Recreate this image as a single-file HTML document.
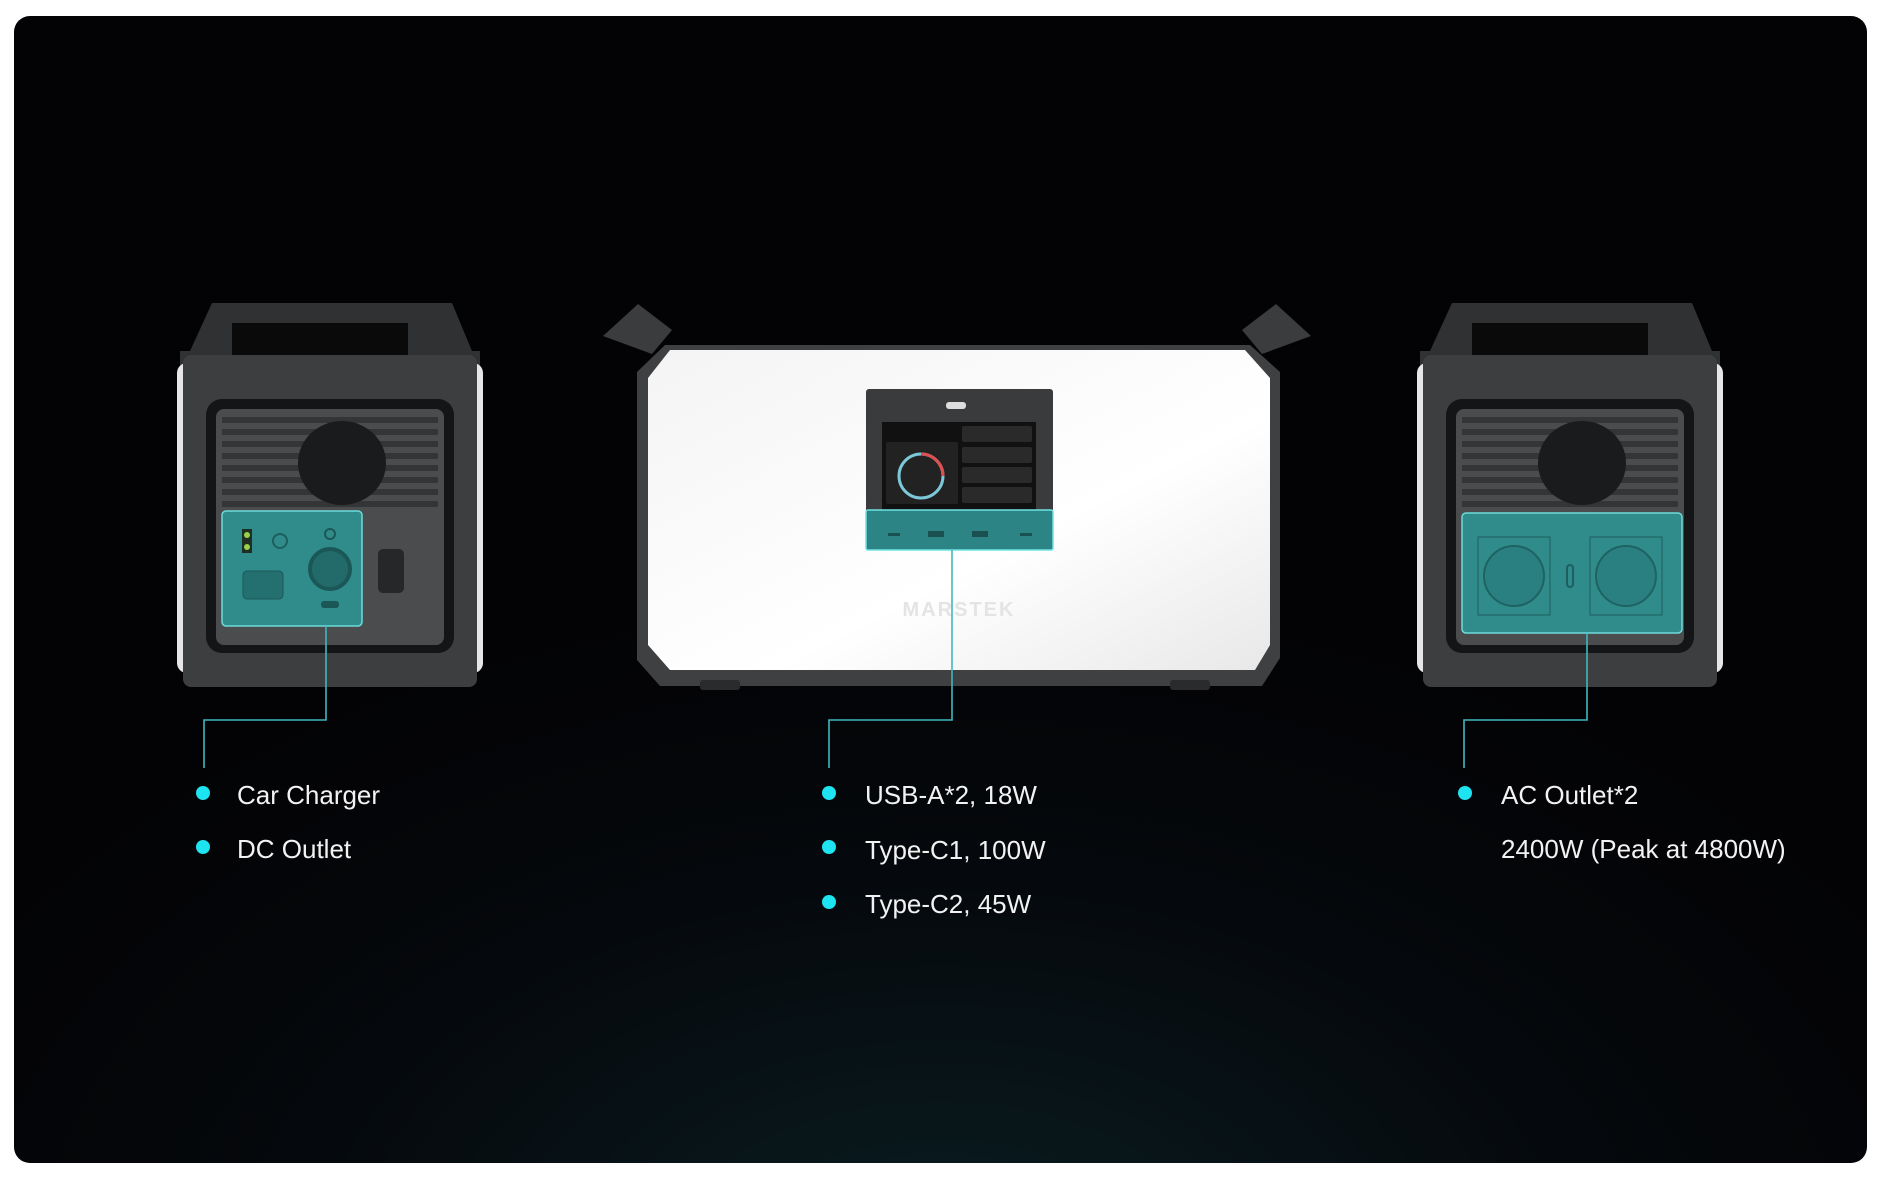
<!DOCTYPE html>
<html><head><meta charset="utf-8"><style>
html,body{margin:0;padding:0;background:#fff;width:1880px;height:1178px;overflow:hidden}
svg{display:block}
text{font-family:"Liberation Sans",sans-serif}
</style></head><body>
<svg width="1880" height="1178" viewBox="0 0 1880 1178">
<defs>
<radialGradient id="glow" cx="0.5" cy="1.1" r="0.6">
<stop offset="0" stop-color="#0a1e22"/><stop offset="0.6" stop-color="#05080c"/><stop offset="1" stop-color="#030305"/>
</radialGradient>
<linearGradient id="white" x1="0" y1="0" x2="1" y2="1"><stop offset="0" stop-color="#f4f4f4"/><stop offset="0.6" stop-color="#ffffff"/><stop offset="1" stop-color="#e8e8e8"/></linearGradient>
<g id="unit">
 <path d="M64 0 L272 0 L292 48 L300 48 L300 66 L0 66 L0 48 L10 48 L32 0Z" fill="#2f3133"/>
 <rect x="52" y="20" width="176" height="32" fill="#0a0a0a"/>
 <rect x="-3" y="60" width="306" height="310" rx="10" fill="#e6e6e6"/>
 <rect x="3" y="52" width="294" height="332" rx="8" fill="#3c3e40"/>
 <rect x="26" y="96" width="248" height="254" rx="16" fill="#141516"/>
 <rect x="36" y="106" width="228" height="236" rx="8" fill="#4a4c4e"/>
 <g fill="#333536">
  <rect x="42" y="114" width="216" height="6"/><rect x="42" y="126" width="216" height="6"/><rect x="42" y="138" width="216" height="6"/><rect x="42" y="150" width="216" height="6"/><rect x="42" y="162" width="216" height="6"/><rect x="42" y="174" width="216" height="6"/><rect x="42" y="186" width="216" height="6"/><rect x="42" y="198" width="216" height="6"/>
 </g>
 <ellipse cx="162" cy="160" rx="44" ry="42" fill="#1a1b1c"/>
</g>
</defs>
<rect x="14" y="16" width="1853" height="1147" rx="16" fill="url(#glow)"/>

<!-- left unit -->
<g transform="translate(180,303)">
 <use href="#unit"/>
 <rect x="42" y="208" width="140" height="115" rx="4" fill="#2f8f8f" stroke="#6fe3e3" stroke-width="1.5" opacity="0.95"/>
 <rect x="62" y="226" width="10" height="24" fill="#1e2e22"/><circle cx="67" cy="232" r="3" fill="#9ad14a"/><circle cx="67" cy="244" r="3" fill="#9ad14a"/>
 <circle cx="100" cy="238" r="7" fill="none" stroke="#1f5e5e" stroke-width="2"/>
 <rect x="63" y="268" width="40" height="28" rx="4" fill="#247070" stroke="#1c5858"/>
 <circle cx="150" cy="266" r="20" fill="#236b6b" stroke="#1b5757" stroke-width="4"/>
 <circle cx="150" cy="231" r="5" fill="none" stroke="#1b5757" stroke-width="2"/>
 <rect x="141" y="298" width="18" height="7" rx="3" fill="#1b5757"/>
 <rect x="198" y="246" width="26" height="44" rx="5" fill="#262728"/>
</g>

<!-- center unit -->
<g>
 <path d="M603 336 L638 304 L672 330 L652 354Z" fill="#3a3c3e"/>
 <path d="M1311 336 L1276 304 L1242 330 L1262 354Z" fill="#3a3c3e"/>
 <path d="M665 345 L1250 345 L1280 372 L1280 658 L1262 686 L660 686 L637 660 L637 372Z" fill="#3e4042"/>
 <path d="M670 350 L1245 350 L1270 378 L1270 645 L1255 670 L670 670 L648 645 L648 378Z" fill="url(#white)"/>
 <rect x="700" y="680" width="40" height="10" rx="3" fill="#2a2b2c"/><rect x="1170" y="680" width="40" height="10" rx="3" fill="#2a2b2c"/>
 <text x="959" y="616" text-anchor="middle" font-size="20" font-weight="bold" fill="#e4e4e4" letter-spacing="2">MARSTEK</text>
 <rect x="866" y="389" width="187" height="161" rx="3" fill="#3a3b3d"/>
 <rect x="946" y="402" width="20" height="7" rx="3" fill="#ddd"/>
 <rect x="882" y="422" width="154" height="88" fill="#111"/>
 <rect x="962" y="426" width="70" height="16" rx="2" fill="#2a2a2a"/><rect x="962" y="447" width="70" height="16" rx="2" fill="#2a2a2a"/><rect x="962" y="467" width="70" height="16" rx="2" fill="#2a2a2a"/><rect x="962" y="487" width="70" height="16" rx="2" fill="#2a2a2a"/>
 <rect x="886" y="442" width="72" height="62" rx="2" fill="#222"/>
 <circle cx="921" cy="476" r="22" fill="none" stroke="#7cc8d8" stroke-width="3"/>
 <path d="M921 454 A22 22 0 0 1 943 476" fill="none" stroke="#e05050" stroke-width="3"/>
 <rect x="866" y="510" width="187" height="40" rx="2" fill="#2c8484" stroke="#6fe3e3" stroke-width="1.5"/>
 <rect x="888" y="533" width="12" height="3" fill="#1a5050"/><rect x="928" y="531" width="16" height="6" fill="#1a5050"/><rect x="972" y="531" width="16" height="6" fill="#1a5050"/><rect x="1020" y="533" width="12" height="3" fill="#1a5050"/>
</g>

<!-- right unit -->
<g transform="translate(1420,303)">
 <use href="#unit"/>
 <rect x="42" y="210" width="220" height="120" rx="4" fill="#2f8f8f" stroke="#6fe3e3" stroke-width="1.5" opacity="0.95"/>
 <rect x="58" y="234" width="72" height="78" fill="none" stroke="#1f5e5e"/>
 <circle cx="94" cy="273" r="30" fill="#2a8080" stroke="#1f6262" stroke-width="2"/>
 <rect x="170" y="234" width="72" height="78" fill="none" stroke="#1f5e5e"/>
 <circle cx="206" cy="273" r="30" fill="#2a8080" stroke="#1f6262" stroke-width="2"/>
 <rect x="147" y="262" width="6" height="22" rx="3" fill="none" stroke="#1f5e5e" stroke-width="2"/>
</g>

<!-- connectors -->
<g fill="none" stroke="#3fb8c0" stroke-width="1.6">
 <path d="M326 626 V720 H204 V768"/>
 <path d="M952 550 V720 H829 V768"/>
 <path d="M1587 633 V720 H1464 V768"/>
</g>

<g fill="#1ee3f0">
 <circle cx="203" cy="793" r="7"/><circle cx="203" cy="847" r="7"/>
 <circle cx="829" cy="793" r="7"/><circle cx="829" cy="847" r="7"/><circle cx="829" cy="902" r="7"/>
 <circle cx="1465" cy="793" r="7"/>
</g>
<g fill="#f2f2f2" font-size="26">
 <text x="237" y="804">Car Charger</text>
 <text x="237" y="858">DC Outlet</text>
 <text x="865" y="804">USB-A*2, 18W</text>
 <text x="865" y="859">Type-C1, 100W</text>
 <text x="865" y="913">Type-C2, 45W</text>
 <text x="1501" y="804">AC Outlet*2</text>
 <text x="1501" y="858">2400W (Peak at 4800W)</text>
</g>
</svg>
</body></html>
